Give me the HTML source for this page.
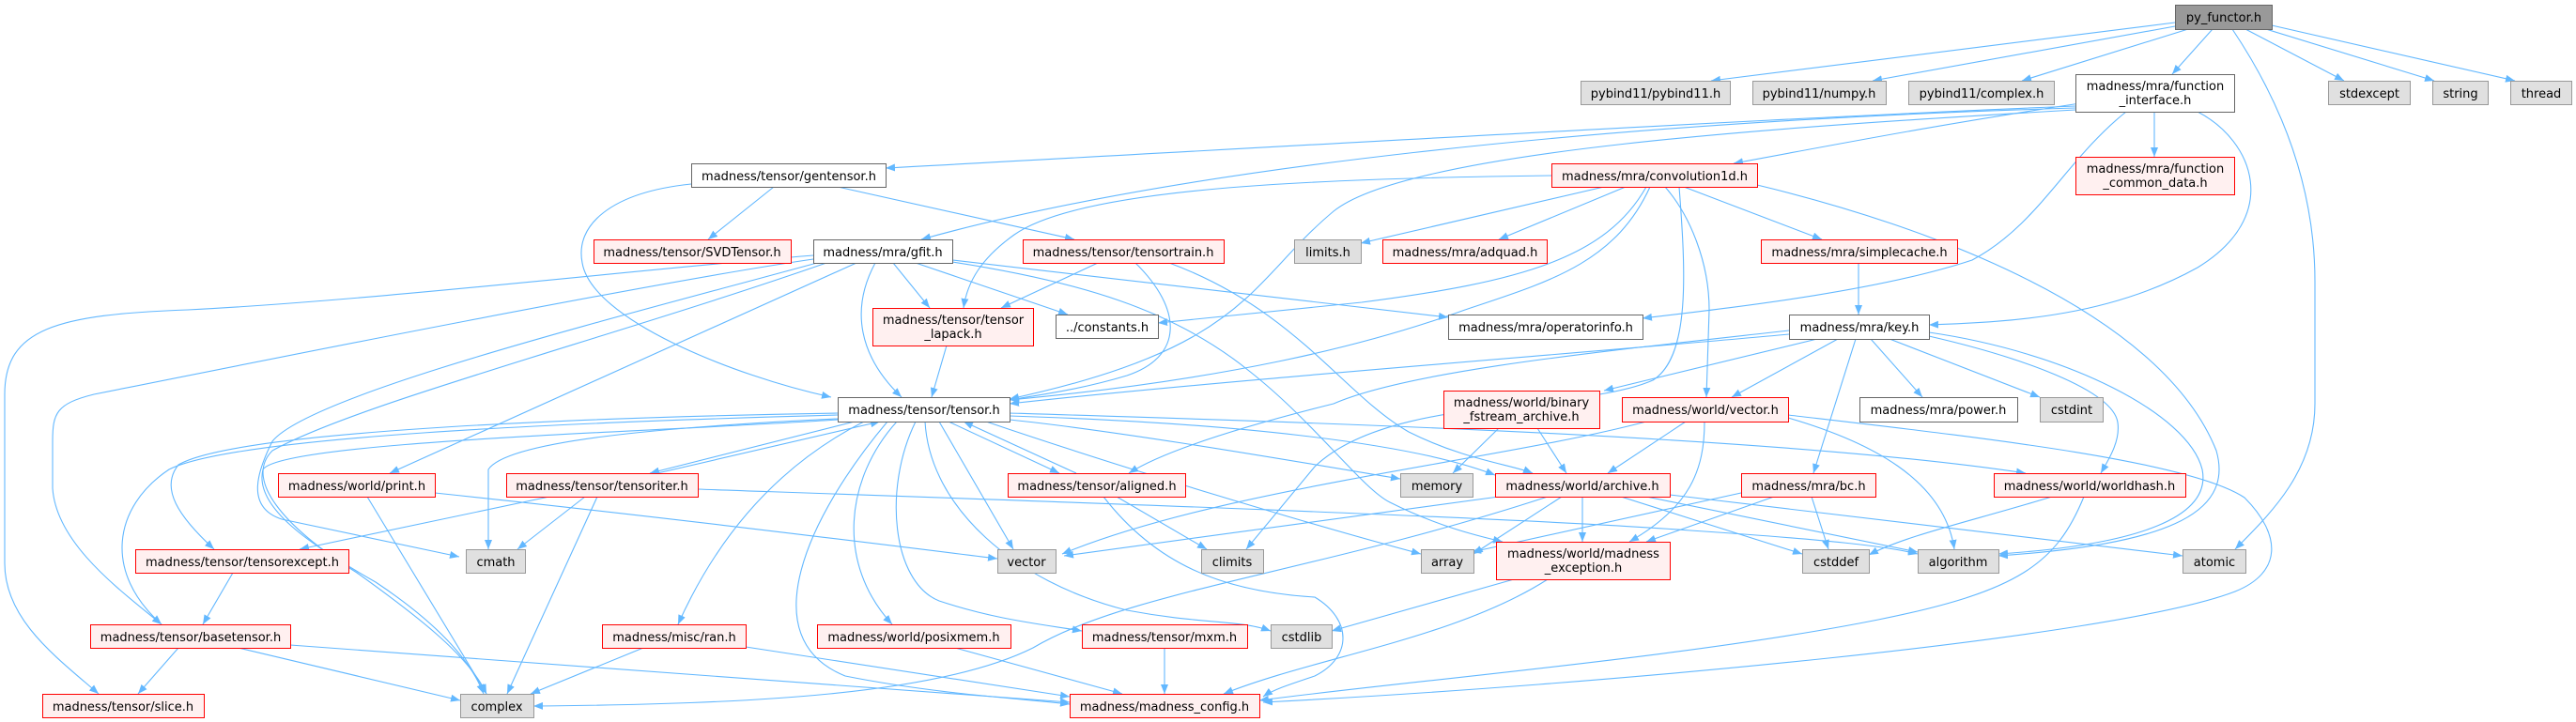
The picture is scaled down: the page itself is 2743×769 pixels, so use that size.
<!DOCTYPE html>
<html><head><meta charset="utf-8"><style>
html,body{margin:0;padding:0;background:#fff;}
svg{display:block;}
text{font-family:"DejaVu Sans","Liberation Sans",sans-serif;font-size:13px;fill:#000;text-anchor:middle;}
.e{fill:none;stroke:#63B8FF;stroke-width:1.1;marker-end:url(#a);}
.g{fill:#E0E0E0;stroke:#999999;stroke-width:1;}
.w{fill:#FFFFFF;stroke:#666666;stroke-width:1;}
.r{fill:#FFF0F0;stroke:#FF0000;stroke-width:1;}
.d{fill:#999999;stroke:#666666;stroke-width:1;}
</style></head><body>
<svg width="2743" height="769" viewBox="0 0 2743 769" xmlns="http://www.w3.org/2000/svg">
<defs><marker id="a" markerWidth="10" markerHeight="8" refX="10" refY="4" orient="auto" markerUnits="userSpaceOnUse"><path d="M0,0 L10,4 L0,8 z" fill="#63B8FF"/></marker></defs>
<g>
<!-- py_functor -->
<path class="e" d="M2316,24 L1822,86"/>
<path class="e" d="M2316,28 L1994,86"/>
<path class="e" d="M2330,31 L2153,86"/>
<path class="e" d="M2356,31 L2313,79"/>
<path class="e" d="M2391,31 L2496,86"/>
<path class="e" d="M2413,31 L2592,86"/>
<path class="e" d="M2419,27 L2678,86"/>
<path class="e" d="M2377,31 C2430,110 2465,200 2465,300 L2465,430 C2465,500 2420,545 2380,585"/>
<!-- function_interface -->
<path class="e" d="M2210,113 C1900,125 1300,160 943,179"/>
<path class="e" d="M2210,115 C1700,130 1250,180 981,255"/>
<path class="e" d="M2210,117 C1900,135 1500,160 1420,225 C1330,300 1330,370 1075,425"/>
<path class="e" d="M2215,110 C2050,135 1950,155 1846,174"/>
<path class="e" d="M2294,119 L2294,167"/>
<path class="e" d="M2340,119 C2400,150 2430,230 2340,285 C2250,335 2150,343 2054,346"/>
<path class="e" d="M2264,119 C2200,170 2170,240 2100,277 C2000,310 1850,327 1749,339"/>
<!-- gentensor -->
<path class="e" d="M824,199 L754,255"/>
<path class="e" d="M892,199 L1144,255"/>
<path class="e" d="M736,196 C650,205 612,240 620,280 C630,340 780,400 885,423"/>
<!-- convolution1d -->
<path class="e" d="M1708,199 L1449,259"/>
<path class="e" d="M1731,199 L1596,255"/>
<path class="e" d="M1793,199 L1940,255"/>
<path class="e" d="M1652,187 C1400,190 1150,200 1080,250 C1045,275 1030,300 1026,328"/>
<path class="e" d="M1753,199 C1710,275 1620,300 1450,322 L1233,344"/>
<path class="e" d="M1757,199 C1720,280 1650,300 1560,330 C1450,370 1300,405 1075,426"/>
<path class="e" d="M1773,199 C1800,230 1820,280 1820,330 L1817,423"/>
<path class="e" d="M1788,199 C1795,290 1800,380 1760,405 C1680,440 1480,420 1400,497 L1327,585"/>
<path class="e" d="M1871,197 C2050,240 2300,330 2360,480 C2380,550 2300,580 2128,592"/>
<!-- key -->
<path class="e" d="M1905,356 C1700,375 1300,405 1075,430"/>
<path class="e" d="M1905,352 C1700,375 1500,395 1420,430 C1320,455 1240,480 1202,504"/>
<path class="e" d="M1935,361 L1708,416"/>
<path class="e" d="M1957,361 L1844,423"/>
<path class="e" d="M1976,361 L1931,504"/>
<path class="e" d="M1992,361 L2047,423"/>
<path class="e" d="M2012,361 L2172,423"/>
<path class="e" d="M2054,358 C2150,380 2250,415 2255,450 C2258,470 2245,490 2237,504"/>
<path class="e" d="M2054,354 C2200,375 2330,440 2345,500 C2355,550 2280,580 2128,590"/>
<!-- simplecache -->
<path class="e" d="M1979,280 L1979,335"/>
<!-- gfit -->
<path class="e" d="M951,280 L990,328"/>
<path class="e" d="M932,280 C905,330 915,380 960,423"/>
<path class="e" d="M975,280 L1137,335"/>
<path class="e" d="M1014,277 L1542,338"/>
<path class="e" d="M1014,279 C1150,300 1250,330 1330,395 C1400,450 1450,520 1480,535 C1530,560 1570,570 1600,577"/>
<path class="e" d="M912,280 L415,504"/>
<path class="e" d="M866,272 C700,285 400,320 200,330 C60,335 5,350 5,420 L5,600 C5,660 60,700 105,739"/>
<path class="e" d="M866,276 C700,300 300,380 100,420 C60,430 56,440 56,470 L56,520 C60,580 130,630 172,665"/>
<path class="e" d="M870,280 C650,340 330,420 290,470 C275,500 260,540 300,553 L489,593"/>
<path class="e" d="M880,280 C650,360 380,430 290,480 C260,510 300,560 380,610 C450,660 500,700 518,739"/>
<!-- tensortrain -->
<path class="e" d="M1169,280 L1066,328"/>
<path class="e" d="M1209,280 C1260,330 1260,380 1200,400 C1150,415 1110,420 1075,426"/>
<path class="e" d="M1245,280 C1380,330 1430,420 1500,460 C1560,490 1610,495 1632,504"/>
<!-- lapack -->
<path class="e" d="M1008,368 L992,423"/>
<!-- tensor.h -->
<path class="e" d="M910,449 L692,504"/>
<path class="e" d="M892,440 C600,445 250,460 190,495 C170,520 190,550 228,585"/>
<path class="e" d="M892,442 C600,450 250,465 180,500 C120,540 110,610 172,665"/>
<path class="e" d="M892,446 C700,455 540,470 520,500 L520,585"/>
<path class="e" d="M892,447 C700,460 300,470 280,500 C270,540 330,580 400,620 C460,660 500,700 515,739"/>
<path class="e" d="M1000,449 L1079,585"/>
<path class="e" d="M1010,449 L1128,504"/>
<path class="e" d="M1075,447 C1200,460 1400,495 1491,510"/>
<path class="e" d="M1075,443 C1300,450 1500,470 1592,506"/>
<path class="e" d="M1050,449 C1200,500 1400,560 1513,590"/>
<path class="e" d="M985,449 C990,540 1080,620 1200,650 C1280,665 1320,660 1353,672"/>
<path class="e" d="M975,449 C940,520 950,620 1000,640 C1060,660 1110,665 1152,672"/>
<path class="e" d="M955,449 C900,510 890,600 950,665"/>
<path class="e" d="M945,449 C860,550 800,680 900,720 C1000,740 1100,745 1139,750"/>
<path class="e" d="M920,449 C820,500 760,580 722,665"/>
<path class="e" d="M1075,440 C1400,450 1900,465 2157,504"/>
<!-- tensoriter -->
<path class="e" d="M700,504 L937,449"/>
<path class="e" d="M585,529 L319,585"/>
<path class="e" d="M623,529 L551,585"/>
<path class="e" d="M636,529 L540,739"/>
<path class="e" d="M743,521 C1000,530 1600,550 1800,565 C1950,575 2010,582 2042,590"/>
<!-- aligned -->
<path class="e" d="M1146,504 L1026,449"/>
<path class="e" d="M1189,529 L1285,585"/>
<path class="e" d="M1175,529 C1230,600 1300,630 1400,636 C1440,660 1440,700 1400,720 C1370,730 1355,735 1345,742"/>
<!-- binary -->
<path class="e" d="M1596,456 L1547,504"/>
<path class="e" d="M1637,456 L1668,504"/>
<!-- vector.h -->
<path class="e" d="M1795,449 L1712,504"/>
<path class="e" d="M1815,449 C1815,500 1800,540 1735,577"/>
<path class="e" d="M1753,449 C1600,490 1300,520 1131,590"/>
<path class="e" d="M1904,445 C1990,470 2070,510 2081,585"/>
<path class="e" d="M1904,442 C2100,465 2330,490 2390,530 C2430,570 2430,610 2380,630 C2250,680 1700,730 1345,748"/>
<!-- bc -->
<path class="e" d="M1889,529 L1753,577"/>
<path class="e" d="M1854,525 L1567,588"/>
<path class="e" d="M1929,529 L1947,585"/>
<!-- archive -->
<path class="e" d="M1685,529 L1685,577"/>
<path class="e" d="M1663,529 L1569,590"/>
<path class="e" d="M1726,529 L1919,590"/>
<path class="e" d="M1753,529 L2042,588"/>
<path class="e" d="M1778,527 L2324,592"/>
<path class="e" d="M1596,529 L1133,592"/>
<path class="e" d="M1648,529 C1400,610 1200,630 1100,690 C1000,740 800,750 568,752"/>
<!-- madness_exception -->
<path class="e" d="M1612,617 L1418,672"/>
<path class="e" d="M1648,617 C1550,680 1400,700 1303,739"/>
<!-- worldhash -->
<path class="e" d="M2185,529 C2100,555 2030,570 1990,591"/>
<path class="e" d="M2219,529 C2190,600 2150,630 2000,660 C1800,700 1500,725 1341,746"/>
<!-- misc -->
<path class="e" d="M248,610 L216,665"/>
<path class="e" d="M190,690 L147,739"/>
<path class="e" d="M254,690 L490,746"/>
<path class="e" d="M309,687 L1139,748"/>
<path class="e" d="M685,690 L565,739"/>
<path class="e" d="M794,689 L1139,742"/>
<path class="e" d="M1017,690 L1195,739"/>
<path class="e" d="M1240,690 L1240,739"/>
<path class="e" d="M391,529 L518,739"/>
<path class="e" d="M463,525 C700,550 900,575 1062,595"/>
</g>
<g>
<rect class="d" x="2316.5" y="5.5" width="103" height="26"/><text x="2368" y="23">py_functor.h</text>
<rect class="g" x="1683.5" y="86.5" width="159" height="25"/><text x="1763" y="104">pybind11/pybind11.h</text>
<rect class="g" x="1866.5" y="86.5" width="142" height="25"/><text x="1937" y="104">pybind11/numpy.h</text>
<rect class="g" x="2032.5" y="86.5" width="155" height="25"/><text x="2110" y="104">pybind11/complex.h</text>
<rect class="w" x="2210.5" y="79.5" width="169" height="40"/><text x="2295" y="96">madness/mra/function</text><text x="2295" y="111">_interface.h</text>
<rect class="g" x="2479.5" y="86.5" width="87" height="25"/><text x="2523" y="104">stdexcept</text>
<rect class="g" x="2590.5" y="86.5" width="59" height="25"/><text x="2620" y="104">string</text>
<rect class="g" x="2673.5" y="86.5" width="65" height="25"/><text x="2706" y="104">thread</text>
<rect class="w" x="736.5" y="174.5" width="207" height="25"/><text x="840" y="192">madness/tensor/gentensor.h</text>
<rect class="r" x="1652.5" y="174.5" width="219" height="25"/><text x="1762" y="192">madness/mra/convolution1d.h</text>
<rect class="r" x="2210.5" y="167.5" width="169" height="40"/><text x="2295" y="184">madness/mra/function</text><text x="2295" y="199">_common_data.h</text>
<rect class="r" x="632.5" y="255.5" width="210" height="25"/><text x="737" y="273">madness/tensor/SVDTensor.h</text>
<rect class="w" x="866.5" y="255.5" width="148" height="25"/><text x="940" y="273">madness/mra/gfit.h</text>
<rect class="r" x="1089.5" y="255.5" width="214" height="25"/><text x="1196" y="273">madness/tensor/tensortrain.h</text>
<rect class="g" x="1378.5" y="255.5" width="71" height="25"/><text x="1414" y="273">limits.h</text>
<rect class="r" x="1472.5" y="255.5" width="175" height="25"/><text x="1560" y="273">madness/mra/adquad.h</text>
<rect class="r" x="1875.5" y="255.5" width="209" height="25"/><text x="1980" y="273">madness/mra/simplecache.h</text>
<rect class="r" x="929.5" y="328.5" width="171" height="40"/><text x="1015" y="345">madness/tensor/tensor</text><text x="1015" y="360">_lapack.h</text>
<rect class="w" x="1124.5" y="335.5" width="109" height="25"/><text x="1179" y="353">../constants.h</text>
<rect class="w" x="1542.5" y="335.5" width="207" height="26"/><text x="1646" y="353">madness/mra/operatorinfo.h</text>
<rect class="w" x="1905.5" y="335.5" width="149" height="26"/><text x="1980" y="353">madness/mra/key.h</text>
<rect class="w" x="892.5" y="423.5" width="183" height="26"/><text x="984" y="441">madness/tensor/tensor.h</text>
<rect class="r" x="1537.5" y="416.5" width="166" height="40"/><text x="1620" y="433">madness/world/binary</text><text x="1620" y="448">_fstream_archive.h</text>
<rect class="r" x="1727.5" y="423.5" width="177" height="26"/><text x="1816" y="441">madness/world/vector.h</text>
<rect class="w" x="1980.5" y="423.5" width="168" height="26"/><text x="2064" y="441">madness/mra/power.h</text>
<rect class="g" x="2172.5" y="423.5" width="67" height="26"/><text x="2206" y="441">cstdint</text>
<rect class="r" x="296.5" y="504.5" width="167" height="25"/><text x="380" y="522">madness/world/print.h</text>
<rect class="r" x="539.5" y="504.5" width="204" height="25"/><text x="641" y="522">madness/tensor/tensoriter.h</text>
<rect class="r" x="1073.5" y="504.5" width="189" height="25"/><text x="1168" y="522">madness/tensor/aligned.h</text>
<rect class="g" x="1491.5" y="504.5" width="77" height="25"/><text x="1530" y="522">memory</text>
<rect class="r" x="1592.5" y="504.5" width="186" height="25"/><text x="1685" y="522">madness/world/archive.h</text>
<rect class="r" x="1854.5" y="504.5" width="143" height="25"/><text x="1926" y="522">madness/mra/bc.h</text>
<rect class="r" x="2123.5" y="504.5" width="204" height="25"/><text x="2225" y="522">madness/world/worldhash.h</text>
<rect class="r" x="144.5" y="585.5" width="227" height="25"/><text x="258" y="603">madness/tensor/tensorexcept.h</text>
<rect class="g" x="496.5" y="585.5" width="63" height="25"/><text x="528" y="603">cmath</text>
<rect class="g" x="1062.5" y="585.5" width="62" height="25"/><text x="1093" y="603">vector</text>
<rect class="g" x="1279.5" y="585.5" width="66" height="25"/><text x="1312" y="603">climits</text>
<rect class="g" x="1513.5" y="585.5" width="56" height="25"/><text x="1541" y="603">array</text>
<rect class="r" x="1593.5" y="577.5" width="185" height="40"/><text x="1686" y="594">madness/world/madness</text><text x="1686" y="609">_exception.h</text>
<rect class="g" x="1919.5" y="585.5" width="71" height="25"/><text x="1955" y="603">cstddef</text>
<rect class="g" x="2042.5" y="585.5" width="86" height="25"/><text x="2085" y="603">algorithm</text>
<rect class="g" x="2324.5" y="585.5" width="67" height="25"/><text x="2358" y="603">atomic</text>
<rect class="r" x="96.5" y="665.5" width="213" height="25"/><text x="203" y="683">madness/tensor/basetensor.h</text>
<rect class="r" x="641.5" y="665.5" width="153" height="25"/><text x="718" y="683">madness/misc/ran.h</text>
<rect class="r" x="870.5" y="665.5" width="206" height="25"/><text x="973" y="683">madness/world/posixmem.h</text>
<rect class="r" x="1152.5" y="665.5" width="176" height="25"/><text x="1240" y="683">madness/tensor/mxm.h</text>
<rect class="g" x="1353.5" y="665.5" width="65" height="25"/><text x="1386" y="683">cstdlib</text>
<rect class="r" x="45.5" y="739.5" width="172" height="25"/><text x="131" y="757">madness/tensor/slice.h</text>
<rect class="g" x="490.5" y="739.5" width="78" height="25"/><text x="529" y="757">complex</text>
<rect class="r" x="1139.5" y="739.5" width="202" height="25"/><text x="1240" y="757">madness/madness_config.h</text>
</g>
</svg>
</body></html>
